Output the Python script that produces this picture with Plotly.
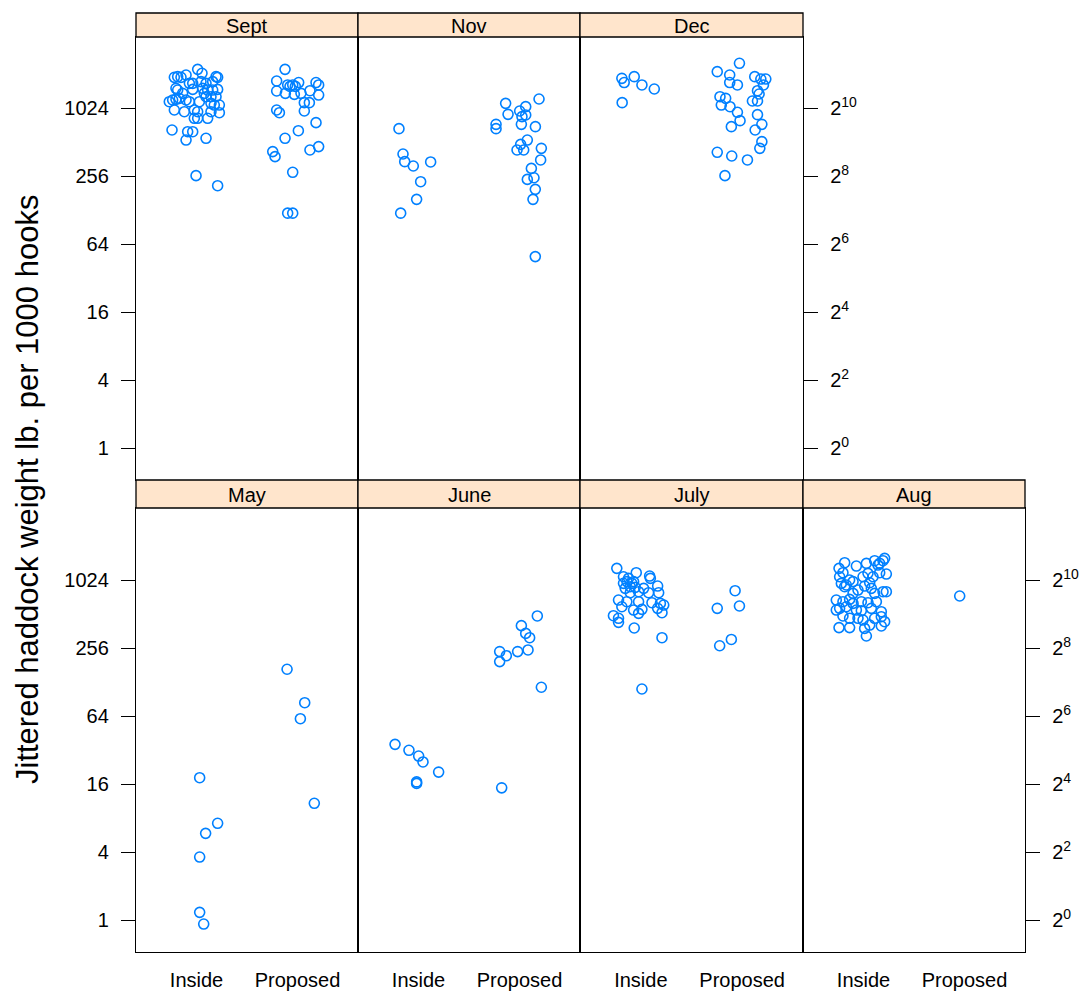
import plotly.graph_objects as go

# ---------------- data ----------------
months = ["Sept", "Nov", "Dec", "May", "June", "July", "Aug"]
groups = ["Inside", "Proposed"]
ytick_vals = [1, 4, 16, 64, 256, 1024]
ytick_left = ["1", "4", "16", "64", "256", "1024"]
ytick_right = ["2<sup>0</sup>", "2<sup>2</sup>", "2<sup>4</sup>", "2<sup>6</sup>", "2<sup>8</sup>", "2<sup>10</sup>"]

sept_inside_x = [1.011, 1.054, 0.813, 0.780, 0.846, 0.896, 1.193, 1.209, 0.962, 1.160, 1.094, 0.796, 0.962, 1.209, 1.110,
                 1.061, 0.763, 0.796, 0.896, 0.929, 1.028, 1.094, 1.143, 1.193, 0.829, 1.176, 1.226, 0.780, 0.879, 0.978,
                 1.011, 1.143, 1.226, 0.978, 1.011, 1.110, 0.757, 0.912, 0.962, 0.896, 1.094, 0.995, 1.209, 0.862, 1.077,
                 0.730, 1.160, 0.813, 1.044, 0.929, 1.143]
sept_inside_y = [2252, 2077, 1940, 1914, 1914, 2007, 1940, 1914, 1693, 1753, 1693, 1529, 1497, 1497, 1477,
                 1529, 1205, 1222, 1205, 1165, 1165, 1290, 1290, 1290, 1247, 1088, 1088, 983, 950, 983,
                 950, 950, 931, 830, 830, 830, 654, 632, 632, 533, 552, 258, 210, 1381, 1381,
                 1165, 1477, 1477, 1753, 1693, 1126]
sept_prop_x = [1.877, 1.794, 1.903, 1.953, 2.012, 2.184, 2.210, 1.794, 1.880, 1.969, 2.035, 2.124, 2.210, 2.068, 2.118,
               1.794, 1.821, 2.068, 2.184, 2.009, 1.877, 2.210, 2.124, 1.755, 1.778, 1.953, 1.903, 1.953, 1.926, 1.979]
sept_prop_y = [2252, 1776, 1638, 1638, 1720, 1720, 1638, 1448, 1381, 1353, 1381, 1458, 1334, 1142, 1142,
               983, 931, 963, 760, 645, 552, 466, 435, 421, 380, 276, 120, 120, 1590, 1590]

nov_inside_x = [0.806, 0.846, 0.863, 0.948, 1.120, 1.021, 0.981, 0.823]
nov_inside_y = [672, 401, 343, 314, 341, 228, 159, 120]
nov_prop_x = [2.194, 1.863, 1.887, 2.002, 2.062, 2.062, 2.025, 1.768, 1.768, 2.019, 2.158, 2.078, 2.012, 1.976, 2.042,
              2.217, 2.210, 2.118, 2.144, 2.078, 2.157, 2.134, 2.157]
nov_prop_y = [1231, 1126, 900, 963, 1053, 888, 859, 734, 672, 734, 700, 533, 488, 435, 435,
              450, 355, 299, 247, 239, 195, 159, 49.5]

dec_inside_x = [0.813, 0.836, 0.935, 1.011, 1.133, 0.816]
dec_inside_y = [1875, 1720, 1940, 1638, 1508, 1142]
dec_prop_x = [1.973, 1.754, 1.877, 1.877, 1.953, 2.124, 2.184, 2.233, 2.210, 2.151, 2.167, 2.101, 2.151, 1.781, 1.837,
              1.794, 1.880, 1.953, 1.979, 1.893, 2.151, 2.194, 2.128, 2.194, 2.174, 1.754, 1.897, 2.052, 1.830]
dec_prop_y = [2547, 2148, 2007, 1720, 1638, 1940, 1848, 1848, 1638, 1458, 1362, 1181, 1181, 1290, 1247,
              1088, 1052, 938, 791, 700, 894, 734, 654, 516, 450, 415, 385, 355, 258]

may_inside_x = [1.031, 1.209, 1.090, 1.031, 1.031, 1.071]
may_inside_y = [18.2, 7.18, 5.85, 3.61, 1.169, 0.921]
may_prop_x = [1.897, 2.072, 2.029, 2.167]
may_prop_y = [166, 84, 60.6, 10.8]

june_inside_x = [0.767, 0.905, 1.001, 1.044, 1.199, 0.981, 0.981]
june_inside_y = [35.9, 31.8, 28.3, 25.1, 20.4, 16.7, 16.2]
june_prop_x = [2.177, 2.019, 2.062, 2.101, 2.085, 1.982, 1.804, 1.870, 1.804, 2.217, 1.824]
june_prop_y = [492, 404, 345, 316, 246, 238, 238, 219, 194, 115, 14.8]

july_inside_x = [0.763, 0.955, 1.087, 1.094, 0.829, 0.863, 0.912, 1.166, 0.846, 0.945, 1.028, 1.176, 1.077, 0.896, 0.780,
                 0.862, 0.978, 1.110, 1.193, 1.226, 0.813, 0.929, 1.011, 1.166, 1.209, 0.730, 0.780, 0.780, 0.978, 0.935,
                 1.209, 1.011, 0.879, 0.896, 0.929, 0.829, 0.978]
july_inside_y = [1299, 1189, 1110, 1059, 1095, 991, 957, 906, 864, 882, 864, 791, 791, 791, 681,
                 658, 658, 645, 636, 615, 594, 555, 563, 575, 526, 495, 469, 432, 519, 385,
                 316, 111, 1059, 894, 991, 957, 807]
july_prop_x = [1.930, 1.973, 1.754, 1.893, 1.778]
july_prop_y = [824, 603, 575, 305, 268]

aug_inside_x = [1.209, 1.193, 1.110, 0.813, 0.929, 0.757, 1.143, 0.796, 1.226, 1.044, 1.094, 0.995, 0.780, 0.829, 0.896,
                1.011, 1.077, 1.193, 0.896, 0.730, 0.862, 1.044, 1.127, 0.763, 0.929, 0.978, 1.077, 1.176, 0.796, 0.945,
                1.110, 1.209, 0.757, 0.862, 1.011, 1.176, 1.028, 0.829, 0.995, 1.061, 1.160, 0.862, 0.730,
                1.160, 0.763, 0.813, 0.945, 1.110, 0.796, 0.896, 1.176, 0.862, 1.061, 0.978, 1.226, 1.028]
aug_inside_y = [1593, 1518, 1518, 1457, 1362, 1299, 1390, 1189, 1157, 1173, 1095, 1095, 956, 925, 991,
                906, 864, 807, 780, 681, 690, 645, 658, 575, 555, 548, 575, 537, 492, 469,
                469, 438, 388, 388, 382, 401, 327, 594, 453, 969, 1189, 1024, 555,
                1438, 1095, 894, 835, 780, 658, 636, 485, 469, 409, 658, 807, 1438]
aug_prop_x = [1.953]
aug_prop_y = [739]

panel_data = {
    "Sept": (sept_inside_x, sept_inside_y, sept_prop_x, sept_prop_y),
    "Nov": (nov_inside_x, nov_inside_y, nov_prop_x, nov_prop_y),
    "Dec": (dec_inside_x, dec_inside_y, dec_prop_x, dec_prop_y),
    "May": (may_inside_x, may_inside_y, may_prop_x, may_prop_y),
    "June": (june_inside_x, june_inside_y, june_prop_x, june_prop_y),
    "July": (july_inside_x, july_inside_y, july_prop_x, july_prop_y),
    "Aug": (aug_inside_x, aug_inside_y, aug_prop_x, aug_prop_y),
}

# ---------------- layout geometry (screen pixels) ----------------
OFF = 0                     # page body margin removed by post_script below
W, H = 1084 - OFF, 994 - OFF
cols = [(136, 358), (358, 580), (580, 803), (803, 1025)]
rows = {"top": dict(panel=(37, 480), strip=(13, 37), yrange=[-0.2833, 3.639]),
        "bottom": dict(panel=(508, 952), strip=(480, 508), yrange=[-0.2833, 3.648])}
placement = {"Sept": ("top", 0, "left"), "Nov": ("top", 1, None), "Dec": ("top", 2, "right"),
             "May": ("bottom", 0, "left"), "June": ("bottom", 1, None), "July": ("bottom", 2, None),
             "Aug": ("bottom", 3, "right")}

FONT = "Liberation Sans, Arial, sans-serif"
BLUE = "#0080ff"
STRIP = "#ffe5cc"
LW = 1.3

def px_x(p):
    return (p - OFF) / W

def px_y(p):
    return 1 - (p - OFF) / H

fig = go.Figure()
layout = dict(width=W, height=H, margin=dict(l=0, r=0, t=0, b=0, pad=0),
              paper_bgcolor="white", plot_bgcolor="white", showlegend=False,
              font=dict(family=FONT, color="black", size=20))
shapes = []
annotations = []

for i, m in enumerate(months, start=1):
    row, c, side = placement[m]
    r = rows[row]
    xs = "" if i == 1 else str(i)
    ix, iy, prx, pry = panel_data[m]
    for gx, gy in ((ix, iy), (prx, pry)):
        fig.add_trace(go.Scatter(
            x=gx, y=gy, mode="markers", xaxis="x" + xs, yaxis="y" + xs, cliponaxis=False,
            marker=dict(symbol="circle-open", size=10, color=BLUE, line=dict(width=1.6, color=BLUE)),
            hoverinfo="x+y"))
    x0, x1 = cols[c]
    ptop, pbot = r["panel"]
    xaxis = dict(domain=[px_x(x0), px_x(x1)], anchor="y" + xs, range=[0.4, 2.6],
                 showgrid=False, zeroline=False, showline=True, mirror=True,
                 linecolor="black", linewidth=LW, ticks="", automargin=False,
                 tickvals=[1, 2], ticktext=groups, ticklabeloverflow="allow",
                 showticklabels=(row == "bottom"), ticklabelstandoff=10,
                 tickfont=dict(family=FONT, size=20, color="black"))
    yaxis = dict(domain=[px_y(pbot), px_y(ptop)], anchor="x" + xs, type="log",
                 range=r["yrange"], showgrid=False, zeroline=False, showline=True,
                 mirror=True, linecolor="black", linewidth=LW, automargin=False,
                 ticklabeloverflow="allow",
                 tickvals=ytick_vals, tickfont=dict(family=FONT, size=20, color="black"))
    if side == "left":
        yaxis.update(side="left", ticks="outside", ticklen=14, tickwidth=LW, tickcolor="black",
                     ticktext=ytick_left, showticklabels=True, ticklabelstandoff=8)
    elif side == "right":
        yaxis.update(side="right", ticks="outside", ticklen=14, tickwidth=LW, tickcolor="black",
                     ticktext=ytick_right, showticklabels=True, ticklabelstandoff=8)
    else:
        yaxis.update(ticks="", showticklabels=False)
    layout["xaxis" + xs] = xaxis
    layout["yaxis" + xs] = yaxis

    st, sb = r["strip"]
    shapes.append(dict(type="rect", xref="paper", yref="paper",
                       x0=px_x(x0), x1=px_x(x1), y0=px_y(sb), y1=px_y(st),
                       fillcolor=STRIP, line=dict(color="black", width=LW), layer="above"))
    annotations.append(dict(text=m, xref="paper", yref="paper", showarrow=False,
                            x=px_x((x0 + x1) / 2), y=px_y((st + sb) / 2 + 1),
                            xanchor="center", yanchor="middle",
                            font=dict(family=FONT, size=20, color="black")))

annotations.append(dict(text="Jittered haddock weight lb. per 1000 hooks", xref="paper", yref="paper",
                        showarrow=False, textangle=-90, x=px_x(27), y=px_y(490),
                        xanchor="center", yanchor="middle",
                        font=dict(family=FONT, size=31, color="black")))

layout["shapes"] = shapes
layout["annotations"] = annotations
fig.update_layout(**layout)
fig.write_html("out.html", config={"displayModeBar": False},
               post_script="document.body.style.margin='0';document.body.style.overflow='hidden';")
